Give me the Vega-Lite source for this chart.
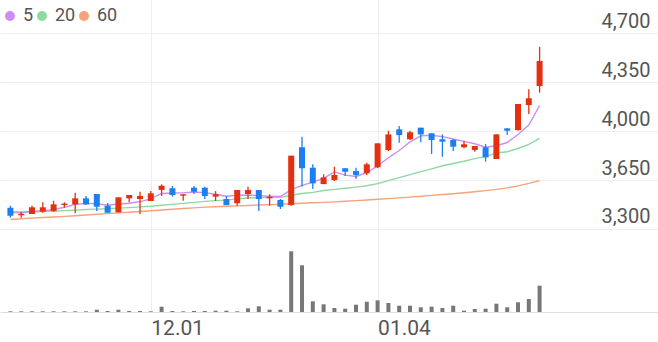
{
  "$schema": "https://vega.github.io/schema/vega-lite/v6.json",
  "width": 658,
  "height": 312,
  "autosize": {"type": "none"},
  "padding": {"left": 0, "top": 0, "right": 0, "bottom": 30},
  "background": "white",
  "config": {"view": {"stroke": null}, "font": "Roboto"},
  "data": {"values": [
    {"i":0,"o":3452,"h":3466,"l":3381,"c":3395,"5":3424,"20":3415,"60":3368,"v":7},
    {"i":1,"o":3398,"h":3424,"l":3381,"c":3409,"5":3420,"20":3418,"60":3373,"v":7},
    {"i":2,"o":3407,"h":3466,"l":3407,"c":3455,"5":3425,"20":3421,"60":3378,"v":7},
    {"i":3,"o":3424,"h":3491,"l":3416,"c":3455,"5":3430,"20":3424,"60":3382,"v":7},
    {"i":4,"o":3429,"h":3502,"l":3424,"c":3476,"5":3438,"20":3427,"60":3386,"v":7},
    {"i":5,"o":3471,"h":3491,"l":3452,"c":3481,"5":3455,"20":3431,"60":3390,"v":7},
    {"i":6,"o":3476,"h":3559,"l":3412,"c":3519,"5":3477,"20":3435,"60":3395,"v":7},
    {"i":7,"o":3519,"h":3536,"l":3471,"c":3476,"5":3481,"20":3439,"60":3400,"v":7},
    {"i":8,"o":3550,"h":3550,"l":3429,"c":3459,"5":3482,"20":3442,"60":3405,"v":23},
    {"i":9,"o":3466,"h":3486,"l":3416,"c":3416,"5":3470,"20":3445,"60":3410,"v":10},
    {"i":10,"o":3419,"h":3526,"l":3419,"c":3526,"5":3479,"20":3449,"60":3415,"v":23},
    {"i":11,"o":3519,"h":3543,"l":3491,"c":3543,"5":3484,"20":3453,"60":3420,"v":10},
    {"i":12,"o":3514,"h":3566,"l":3405,"c":3536,"5":3496,"20":3458,"60":3425,"v":10},
    {"i":13,"o":3500,"h":3571,"l":3500,"c":3555,"5":3515,"20":3463,"60":3430,"v":7},
    {"i":14,"o":3579,"h":3619,"l":3536,"c":3609,"5":3554,"20":3470,"60":3436,"v":53},
    {"i":15,"o":3591,"h":3607,"l":3531,"c":3543,"5":3557,"20":3476,"60":3441,"v":10},
    {"i":16,"o":3538,"h":3548,"l":3502,"c":3548,"5":3558,"20":3483,"60":3446,"v":7},
    {"i":17,"o":3595,"h":3607,"l":3550,"c":3566,"5":3564,"20":3490,"60":3451,"v":10},
    {"i":18,"o":3595,"h":3602,"l":3514,"c":3536,"5":3560,"20":3497,"60":3456,"v":10},
    {"i":19,"o":3531,"h":3571,"l":3500,"c":3548,"5":3548,"20":3503,"60":3459,"v":13},
    {"i":20,"o":3514,"h":3536,"l":3471,"c":3471,"5":3534,"20":3506,"60":3462,"v":13},
    {"i":21,"o":3484,"h":3579,"l":3466,"c":3579,"5":3540,"20":3515,"60":3465,"v":7},
    {"i":22,"o":3550,"h":3602,"l":3514,"c":3579,"5":3543,"20":3521,"60":3468,"v":37},
    {"i":23,"o":3579,"h":3579,"l":3429,"c":3514,"5":3538,"20":3524,"60":3471,"v":57},
    {"i":24,"o":3519,"h":3548,"l":3466,"c":3531,"5":3535,"20":3527,"60":3474,"v":23},
    {"i":25,"o":3507,"h":3514,"l":3443,"c":3459,"5":3532,"20":3526,"60":3477,"v":23},
    {"i":26,"o":3471,"h":3824,"l":3466,"c":3824,"5":3581,"20":3541,"60":3480,"v":607},
    {"i":27,"o":3884,"h":3959,"l":3602,"c":3734,"5":3612,"20":3554,"60":3484,"v":467},
    {"i":28,"o":3738,"h":3762,"l":3586,"c":3626,"5":3635,"20":3562,"60":3487,"v":107},
    {"i":29,"o":3621,"h":3691,"l":3621,"c":3669,"5":3662,"20":3575,"60":3490,"v":77},
    {"i":30,"o":3650,"h":3745,"l":3643,"c":3686,"5":3708,"20":3583,"60":3494,"v":40},
    {"i":31,"o":3734,"h":3734,"l":3679,"c":3709,"5":3685,"20":3591,"60":3498,"v":33},
    {"i":32,"o":3714,"h":3738,"l":3657,"c":3686,"5":3675,"20":3599,"60":3503,"v":73},
    {"i":33,"o":3698,"h":3774,"l":3686,"c":3762,"5":3702,"20":3609,"60":3507,"v":103},
    {"i":34,"o":3741,"h":3912,"l":3734,"c":3912,"5":3751,"20":3624,"60":3512,"v":117},
    {"i":35,"o":3864,"h":4002,"l":3857,"c":3976,"5":3809,"20":3646,"60":3517,"v":90},
    {"i":36,"o":4012,"h":4036,"l":3916,"c":3971,"5":3861,"20":3667,"60":3522,"v":63},
    {"i":37,"o":3941,"h":4002,"l":3936,"c":3991,"5":3922,"20":3688,"60":3528,"v":63},
    {"i":38,"o":4024,"h":4024,"l":3919,"c":3976,"5":3965,"20":3710,"60":3534,"v":47},
    {"i":39,"o":3984,"h":3984,"l":3836,"c":3936,"5":3970,"20":3730,"60":3540,"v":53},
    {"i":40,"o":3941,"h":3976,"l":3816,"c":3924,"5":3960,"20":3752,"60":3546,"v":40},
    {"i":41,"o":3936,"h":3943,"l":3857,"c":3888,"5":3943,"20":3768,"60":3552,"v":63},
    {"i":42,"o":3884,"h":3929,"l":3876,"c":3905,"5":3926,"20":3784,"60":3559,"v":13},
    {"i":43,"o":3864,"h":3893,"l":3852,"c":3893,"5":3909,"20":3803,"60":3566,"v":30},
    {"i":44,"o":3884,"h":3907,"l":3781,"c":3812,"5":3884,"20":3817,"60":3574,"v":33},
    {"i":45,"o":3800,"h":3976,"l":3800,"c":3976,"5":3895,"20":3843,"60":3583,"v":83},
    {"i":46,"o":4019,"h":4019,"l":3971,"c":4002,"5":3918,"20":3852,"60":3594,"v":47},
    {"i":47,"o":4007,"h":4193,"l":4002,"c":4193,"5":3975,"20":3875,"60":3608,"v":97},
    {"i":48,"o":4186,"h":4298,"l":4121,"c":4234,"5":4043,"20":3905,"60":3626,"v":130},
    {"i":49,"o":4321,"h":4602,"l":4274,"c":4500,"5":4181,"20":3947,"60":3646,"v":263}
  ]},
  "layer": [
    {
      "layer": [
        {
          "transform": [{"fold": ["60", "20", "5"], "as": ["ma", "val"]}],
          "mark": {"type": "line", "strokeWidth": 1.4},
          "encoding": {
            "x": {"field": "i", "type": "quantitative",
              "scale": {"domain": [-0.5, 59.5], "nice": false, "zero": false},
              "axis": {"values": [13, 34], "labelExpr": "datum.value == 13 ? '12.01' : '01.04'", "grid": true, "gridColor": "#eeeeee", "domainColor": "#dddddd", "ticks": false, "tickSize": 0, "labelAlign": "left", "labelFontSize": 21, "labelColor": "#555555", "labelPadding": 5, "title": null, "labelFont": "Roboto"}},
            "y": {"field": "val", "type": "quantitative",
              "scale": {"domain": [2707, 4936], "nice": false, "zero": false},
              "axis": {"orient": "right", "values": [3300, 3650, 4000, 4350, 4700], "format": ",.0f", "grid": true, "gridColor": "#eeeeee", "domain": false, "ticks": false, "tickSize": 0, "labelAlign": "right", "labelPadding": -8, "labelBaseline": "alphabetic", "labelOffset": -6, "labelFontSize": 20, "labelColor": "#555555", "labelFont": "Roboto", "title": null}},
            "color": {"field": "ma", "type": "nominal",
              "scale": {"domain": ["5", "20", "60"], "range": ["#cc8ef0", "#8ed99f", "#f6a27a"]},
              "legend": {"orient": "none", "legendX": 1, "legendY": 7, "direction": "horizontal", "title": null, "symbolType": "circle", "symbolSize": 100, "symbolStrokeWidth": 0, "labelFontSize": 18, "labelColor": "#555555", "labelFont": "Roboto", "labelOffset": 4, "columnPadding": -1, "padding": 0, "gridAlign": "none",
                "encode": {"symbols": {"update": {"fill": {"scale": "color", "field": "value"}, "strokeWidth": {"value": 0}, "fillOpacity": {"value": 1}}}}}}
          }
        },
        {
          "mark": {"type": "rule", "strokeWidth": 1.3},
          "encoding": {
            "x": {"field": "i", "type": "quantitative"},
            "y": {"field": "l", "type": "quantitative"},
            "y2": {"field": "h"},
            "color": {"condition": {"test": "datum.c >= datum.o", "value": "#e5300f"}, "value": "#1b7ff0"}
          }
        },
        {
          "mark": {"type": "bar", "size": 6, "orient": "vertical"},
          "encoding": {
            "x": {"field": "i", "type": "quantitative"},
            "y": {"field": "o", "type": "quantitative"},
            "y2": {"field": "c"},
            "color": {"condition": {"test": "datum.c >= datum.o", "value": "#e5300f"}, "value": "#1b7ff0"}
          }
        }
      ]
    },
    {
      "mark": {"type": "bar", "size": 4, "color": "#777777", "orient": "vertical"},
      "encoding": {
        "x": {"field": "i", "type": "quantitative"},
        "y": {"field": "v", "type": "quantitative", "scale": {"domain": [0, 3120]}, "axis": null}
      }
    }
  ],
  "resolve": {"scale": {"y": "independent"}}
}
